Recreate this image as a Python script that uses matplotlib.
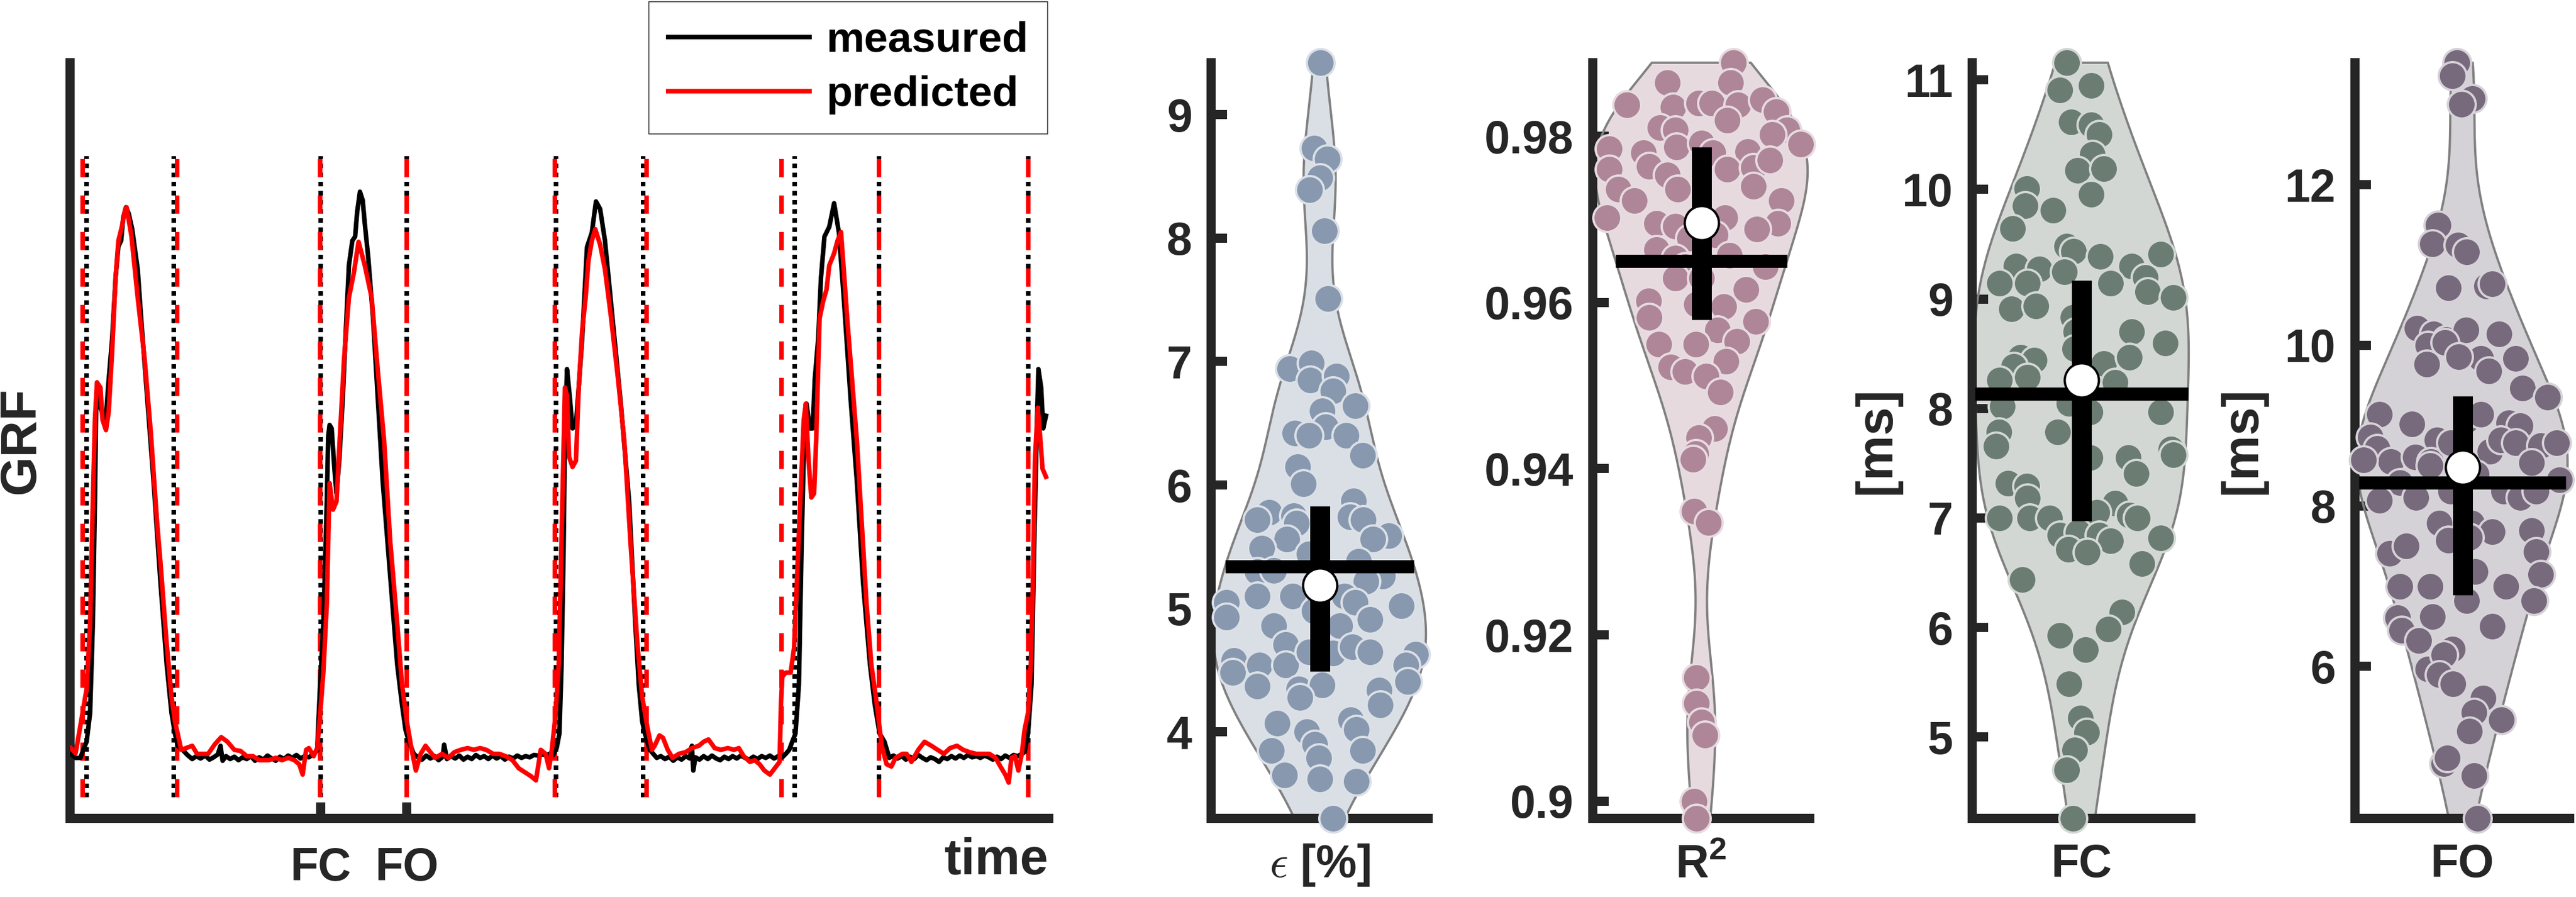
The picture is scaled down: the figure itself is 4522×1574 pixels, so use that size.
import numpy as np
import matplotlib
matplotlib.use("Agg")
import matplotlib.pyplot as plt
from matplotlib.lines import Line2D

plt.rcParams['font.family'] = ['Liberation Sans', 'DejaVu Sans']
plt.rcParams['font.weight'] = 'bold'
plt.rcParams['axes.labelweight'] = 'bold'
plt.rcParams['mathtext.fontset'] = 'custom'
plt.rcParams['mathtext.rm'] = 'Liberation Sans:bold'
plt.rcParams['mathtext.bf'] = 'Liberation Sans:bold'

# ---------------- GRF traces (time in frames, GRF in N) ----------------
t_meas = [1, 8, 15, 19, 24, 29, 33, 36, 38, 40, 44, 50, 53, 56, 61, 66, 70, 74, 77, 81, 85, 90, 98, 103,
          112, 121, 131, 140, 147, 152, 156, 163,
          170, 177, 183, 189, 196, 202, 208, 214, 218, 221, 226, 232, 238, 244, 250, 256, 262, 268, 274,
          280, 286, 292, 298, 304, 310, 316, 322, 328, 334, 340, 346, 352, 358,
          362, 367, 372, 374, 376, 379, 383, 386, 390, 395, 399, 404, 409, 413, 416, 420, 424, 427, 432,
          439, 446, 453, 460, 467, 474, 481, 486, 491, 498,
          504, 510, 516, 522, 528, 534, 540, 542, 546, 552, 558, 564, 570, 576, 582, 588, 594, 600, 606,
          612, 618, 624, 630, 636, 642, 648, 654, 660, 666, 672, 678, 684, 690, 697,
          700, 705, 709, 712, 715, 717, 720, 724, 728, 733, 737, 742, 749, 756, 762, 768, 775, 786, 798,
          810, 819, 824, 829, 833, 840, 850,
          856, 862, 868, 874, 880, 886, 892, 898, 901, 903, 906, 912, 918, 924, 930, 936, 942, 948, 954,
          960, 966, 972, 978, 984, 990, 996, 1002, 1008, 1014, 1020, 1026, 1032, 1037, 1042, 1046,
          1051, 1056, 1060, 1064, 1067, 1072, 1076, 1079, 1084, 1088, 1093, 1100, 1107, 1114, 1121, 1131,
          1140, 1149, 1159, 1166, 1173, 1180, 1187,
          1193, 1199, 1205, 1211, 1217, 1223, 1229, 1235, 1241, 1247, 1253, 1259, 1265, 1271, 1277, 1283,
          1289, 1295, 1301, 1307, 1313, 1319, 1325, 1331, 1337, 1343, 1349, 1355, 1361, 1367, 1373, 1379, 1383,
          1388, 1393, 1397, 1401, 1403, 1407, 1410, 1414]
grf_meas = [0, -7, -7, 7, 21, 71, 226, 438, 621, 636, 601, 581, 601, 650, 721, 827, 881, 891, 931, 949, 938, 911, 841, 756,
            615, 473, 297, 155, 71, 35, 14, 7,
            -2, -9, -4, -8, -3, -10, -6, -1, 14, -12, -4, -9, -5, -11, -6, -9, -4, -12, -6,
            -10, -3, -8, -12, -5, -9, -3, -7, -2, -8, -4, -6, -1, 6,
            113, 226, 438, 551, 571, 565, 495, 452, 509, 615, 721, 848, 891, 898, 941, 976, 961, 921, 862,
            756, 615, 473, 367, 261, 155, 85, 42, 21, 0,
            -6, -10, -3, -8, -4, -11, -5, 16, -9, -4, -8, -3, -10, -5, -9, -2, -7, -4, -9,
            -3, -8, -4, -10, -5, -8, -3, -7, -4, -6, -2, -3, -1, -2, 1,
            -2, 10, 35, 150, 350, 550, 668, 620, 565, 572, 636, 721, 880, 905, 959, 946, 891, 756, 608,
            438, 226, 120, 56, 35, 7, -7,
            -4, -9, -5, -12, -6, -10, -4, -8, 14, -29, -6, -10, -4, -9, -3, -8, -11, -5, -9,
            -4, -8, -3, -7, -10, -5, -9, -4, -7, -3, -8, -4, -6, 0, 7, 20,
            35, 120, 367, 565, 608, 565, 565, 650, 721, 827, 898, 915, 956, 905, 792, 615,
            473, 297, 155, 85, 35, 21, -7,
            -3, -8, -4, -10, -5, -9, -2, -7, -11, -6, -9, -14, -6, -9, -4, -8,
            -3, -7, -2, -6, -4, -7, -3, -6, -10, -5, -9, -3, -7, -2, -4, 0, 3,
            35, 120, 367, 580, 668, 636, 565, 587]

t_pred = [1, 8, 15, 19, 24, 29, 33, 36, 39, 44, 47, 52, 56, 61, 66, 70, 75, 80, 82, 89, 98, 108, 117, 126,
          131, 140, 147, 152, 156, 161, 168, 177, 184, 191, 200, 210, 219, 228, 238, 247, 256, 265, 274,
          288, 298, 307, 316, 325, 332, 337, 342, 346, 353, 358,
          362, 367, 372, 376, 381, 386, 390, 397, 404, 411, 418, 427, 437, 446, 455, 464, 474, 481, 488,
          495, 501, 508, 515, 522, 529, 539, 548, 557, 566, 576, 585, 594, 603, 613, 622, 631, 641, 650,
          659, 668, 675, 682, 689, 694, 698,
          703, 708, 712, 717, 720, 723, 728, 733, 737, 742, 747, 751, 756, 761, 768, 775, 784, 794, 803,
          812, 822, 829, 836, 843, 847, 854, 859, 866, 873, 882, 892, 901, 911, 918, 925, 934, 943, 953,
          962, 969, 976, 985, 992, 999, 1006, 1014, 1021, 1028,
          1030, 1032, 1037, 1044, 1049, 1053, 1058, 1063, 1066, 1070, 1074, 1078, 1081, 1086, 1091, 1096,
          1100, 1107, 1112, 1117, 1121, 1126, 1133, 1140, 1147, 1154, 1161, 1169, 1176, 1183, 1190, 1196,
          1206, 1212, 1219, 1229, 1238, 1248, 1257, 1266, 1275, 1285, 1294, 1303, 1313, 1322, 1332, 1341,
          1348, 1355, 1360, 1364, 1369, 1374, 1379,
          1383, 1388, 1392, 1395, 1398, 1402, 1406, 1409, 1414]
grf_pred = [10, 1, 49, 78, 113, 226, 438, 580, 645, 636, 580, 562, 594, 700, 827, 891, 915, 946, 949, 898, 792, 686, 558, 403,
            332, 191, 99, 56, 35, 7, 10, 14, 0, 0, 0, 17, 29, 21, 7, 5, -4, -4, -11,
            -11, -7, -11, -7, -11, -18, -36, 7, 10, -4, 10,
            63, 141, 261, 470, 424, 438, 530, 686, 792, 834, 889, 848, 792, 664, 544, 367, 226, 120, 56,
            7, -29, 0, 14, 3, -7, 0, -7, 3, 7, 10, 7, 10, 7, 0, 0, -4, -11, -25,
            -32, -39, -46, 7, 0, -25, 7,
            63, 155, 367, 636, 622, 516, 498, 509, 636, 735, 792, 855, 891, 911, 884, 841, 756, 650, 544,
            367, 191, 99, 49, 7, 14, 32, 28, 7, -7, 0, 3, 10, 14, 21, 25, 10, 7, 10,
            7, 10, -4, -14, -11, -18, -29, -36, -25, -14,
            85, 134, 141, 141, 184, 297, 438, 580, 608, 509, 445, 452, 544, 756, 785, 806,
            848, 869, 891, 906, 841, 756, 650, 544, 403, 261, 155, 85, 14, -18, -22, -7,
            0, 0, -14, 7, 21, 14, 7, 0, 10, 14, 7, 3, 0, 0, 0, -7,
            -22, -36, -50, -7, -4, -29, 0,
            42, 71, 155, 297, 509, 601, 544, 495, 481]

# gait events (frames)
fc_meas = [24, 363, 704, 1050, 1388]
fo_meas = [150, 488, 830, 1172]
fc_pred = [18, 362, 702, 1031, 1388]
fo_pred = [155, 488, 835, 1172]

# ---------------- violin data ----------------
eps_vals = [9.42, 8.73, 8.64, 8.49, 8.39, 8.06, 7.51, 6.94, 6.99, 6.85, 6.88, 6.76, 6.64, 6.60, 6.47, 6.42,
            6.40, 6.40, 6.24, 6.15, 6.01, 5.78, 5.72, 5.75, 5.69, 5.87, 5.74, 5.72, 5.56, 5.59, 5.56, 5.49,
            5.44, 5.38, 5.30, 5.31, 5.26, 5.22, 5.05, 4.93, 5.10, 5.10, 5.10, 5.05, 5.02, 4.98, 4.86, 4.86,
            4.91, 4.71, 4.58, 4.48, 4.54, 4.54, 4.65, 4.64, 4.69, 4.65, 4.63, 4.54, 4.41, 4.37, 4.35, 4.38,
            4.34, 4.22, 4.28, 4.07, 4.00, 4.10, 4.02, 3.90, 3.79, 3.85, 3.85, 3.65, 3.62, 3.60, 3.30]
eps_jit = [0.004, -0.026, 0.035, 0.0, -0.046, 0.022, 0.039, -0.139, -0.037, -0.044, 0.078, 0.061, 0.165, 0.011,
           0.028, -0.113, -0.048, 0.122, 0.198, -0.100, -0.074, -0.233, -0.287, -0.120, -0.107, 0.155, 0.141,
           0.202, -0.152, 0.318, 0.246, -0.266, -0.048, 0.181, -0.287, -0.211, 0.289, 0.213, -0.429, -0.429,
           -0.287, -0.124, 0.115, 0.163, 0.376, -0.026, -0.211, 0.094, 0.231, -0.157, -0.396, -0.400, -0.276,
           -0.157, -0.048, 0.061, 0.152, 0.231, 0.442, 0.398, 0.405, -0.287, -0.096, 0.011, 0.274, 0.279,
           -0.091, -0.196, -0.059, 0.144, 0.170, -0.022, -0.004, -0.222, 0.198, -0.161, 0.0, 0.170, 0.061]

r2_vals = [0.98885, 0.98643, 0.98643, 0.98380, 0.98353, 0.98401, 0.98401, 0.98380, 0.98436, 0.98297, 0.98194,
           0.98104, 0.98076, 0.98076, 0.98021, 0.97848, 0.97799, 0.97869, 0.97917, 0.97799, 0.97813, 0.97903,
           0.97606, 0.97640, 0.97537, 0.97606, 0.97620, 0.97710, 0.97364, 0.97226, 0.97364, 0.97398, 0.97226,
           0.97018, 0.96949, 0.96915, 0.97018, 0.96949, 0.96880, 0.96776, 0.96811, 0.96638, 0.96534, 0.96569,
           0.96431, 0.96431, 0.96292, 0.96292, 0.96154, 0.96016, 0.95981, 0.95947, 0.95822, 0.95774, 0.95670,
           0.95497, 0.95497, 0.95532, 0.95290, 0.95221, 0.95172, 0.95117, 0.94923, 0.94481, 0.94370, 0.94183,
           0.94114, 0.93492, 0.93354, 0.91487, 0.91176, 0.90955, 0.90796, 0.90000, 0.89793]
r2_jit = [0.148, -0.157, 0.135, -0.342, -0.131, -0.011, 0.048, 0.170, 0.283, 0.344, 0.120, -0.189, -0.120, 0.396,
          0.326, -0.424, -0.266, -0.113, 0.0, 0.054, 0.213, 0.457, -0.424, -0.239, -0.157, 0.120, 0.239, 0.316,
          -0.381, -0.309, -0.109, 0.239, 0.370, -0.435, -0.207, -0.120, 0.109, 0.353, 0.257, -0.054, 0.065,
          -0.207, -0.120, 0.131, 0.294, -0.076, -0.120, 0.0, 0.207, -0.244, -0.022, 0.104, -0.239, 0.250,
          0.076, -0.196, -0.026, 0.163, 0.115, -0.141, -0.076, 0.022, 0.087, 0.061, -0.011, -0.026, -0.039,
          -0.033, 0.033, -0.022, -0.022, 0.0, 0.017, -0.033, -0.022]

fc_vals = [11.157, 10.906, 10.948, 10.618, 10.592, 10.503, 10.320, 10.174, 10.190, 9.955, 10.007, 9.850, 9.808,
           9.641, 9.484, 9.432, 9.390, 9.406, 9.301, 9.275, 9.249, 9.301, 9.144, 9.144, 9.144, 9.197, 9.066,
           9.014, 8.909, 8.935, 8.700, 8.831, 8.700, 8.595, 8.465, 8.439, 8.386, 8.412, 8.465, 8.256, 8.282,
           8.240, 8.543, 8.020, 8.046, 7.968, 7.968, 7.785, 7.785, 7.654, 7.628, 7.576, 7.550, 7.550, 7.315,
           7.289, 7.184, 7.404, 7.132, 7.053, 7.027, 7.001, 7.001, 7.001, 7.001, 6.844, 6.870, 6.844, 6.792,
           6.714, 6.687, 6.818, 6.436, 6.583, 6.139, 5.982, 5.929, 5.799, 5.485, 5.171, 5.041, 4.884, 4.701, 4.257]
fc_jit = [-0.068, -0.099, 0.044, -0.046, 0.044, 0.080, 0.049, -0.019, 0.101, 0.044, -0.251, -0.258, -0.131,
          -0.315, -0.068, -0.036, 0.087, 0.361, -0.300, -0.194, -0.078, 0.228, -0.374, -0.247, 0.133, 0.291,
          0.302, 0.418, -0.321, -0.209, 0.228, -0.040, -0.025, 0.382, -0.279, -0.215, -0.310, 0.101, 0.218,
          -0.374, -0.247, 0.154, -0.030, -0.363, -0.057, 0.038, 0.361, -0.378, -0.110, -0.391, 0.408, 0.418,
          0.038, 0.213, -0.336, -0.251, -0.247, 0.249, 0.154, 0.070, 0.218, 0.256, -0.374, -0.237, -0.146,
          -0.099, -0.015, 0.080, 0.133, -0.061, 0.027, 0.361, -0.272, 0.277, 0.186, 0.122, -0.099, 0.017,
          -0.057, -0.004, 0.023, -0.032, -0.068, -0.040]

fo_vals = [13.521, 13.357, 13.071, 13.000, 11.500, 11.264, 11.250, 11.164, 10.714, 10.736, 10.764, 10.143,
           10.214, 10.143, 10.071, 10.193, 10.000, 10.036, 9.836, 9.764, 9.857, 9.836, 9.679, 9.464, 9.357,
           9.143, 9.021, 8.821, 9.071, 9.143, 9.036, 9.000, 8.857, 8.714, 8.550, 8.607, 8.550, 8.786, 8.679,
           8.821, 8.786, 8.750, 8.786, 8.571, 8.286, 8.500, 8.536, 8.321, 8.393, 8.071, 8.107, 8.179, 8.179,
           8.107, 8.179, 7.786, 7.786, 7.679, 7.693, 7.571, 7.607, 7.407, 7.500, 7.429, 7.143, 7.000, 7.000,
           7.179, 7.000, 6.821, 6.821, 6.607, 6.621, 6.450, 6.321, 6.214, 6.500, 5.964, 6.143, 5.893, 5.786,
           5.607, 5.429, 5.336, 5.193, 4.786, 4.857, 4.643, 4.107]
fo_jit = [-0.026, -0.047, 0.047, -0.004, -0.112, -0.139, -0.021, 0.021, -0.064, 0.112, 0.139, 0.172, -0.210,
          -0.133, -0.075, 0.017, -0.161, -0.082, 0.086, -0.167, -0.017, 0.247, 0.124, 0.279, 0.397, -0.386,
          -0.236, -0.118, 0.021, 0.086, 0.215, 0.268, -0.429, -0.397, -0.333, -0.219, -0.146, -0.054, 0.129,
          0.178, 0.247, 0.365, 0.440, -0.461, -0.290, -0.150, 0.322, 0.451, 0.064, -0.386, -0.215, -0.054,
          0.193, 0.268, 0.343, -0.107, 0.043, 0.139, 0.322, -0.064, 0.032, -0.339, -0.262, 0.343, 0.365,
          -0.290, -0.150, 0.060, 0.204, 0.333, 0.021, -0.300, -0.139, -0.283, -0.204, -0.047, 0.139, -0.161,
          -0.086, -0.107, -0.043, 0.097, 0.054, 0.182, 0.032, -0.086, -0.069, 0.054, 0.069]

# summary statistics: q1, q3, median, mean
eps_stats = [4.49, 5.83, 5.19, 5.34]
r2_stats = [0.9579, 0.9787, 0.9696, 0.9650]
fc_stats = [6.975, 9.17, 8.256, 8.135]
fo_stats = [6.893, 9.371, 8.479, 8.286]

violin_labels = [r'$\epsilon$ [%]', r'R$^{\mathbf{2}}$', 'FC', 'FO']
violin_ylabels = ['', '', '[ms]', '[ms]']
violin_colors = ['#8798af', '#ae8698', '#6b7d73', '#766a7c']
eps_ticks = [4, 5, 6, 7, 8, 9]
r2_ticks = [0.90, 0.92, 0.94, 0.96, 0.98]
r2_ticklabels = ['0.9', '0.92', '0.94', '0.96', '0.98']
fc_ticks = [5, 6, 7, 8, 9, 10, 11]
fo_ticks = [6, 8, 10, 12]

# ---------------- layout ----------------
W, H = 4522, 1574
DPI = 200
PX = 72.0 / DPI  # points per pixel
AX_COL = '#262626'
SPINE_W = 16 * PX
TICK_FS = 29
LABEL_FS = 32


def px_box(x0, x1, y_top=110, y_bot=1436):
    return [x0 / W, 1 - y_bot / H, (x1 - x0) / W, (y_bot - y_top) / H]


def style_axes(ax):
    for s in ['top', 'right']:
        ax.spines[s].set_visible(False)
    for s in ['left', 'bottom']:
        ax.spines[s].set_linewidth(SPINE_W)
        ax.spines[s].set_color(AX_COL)
        ax.spines[s].set_capstyle('projecting')
    ax.tick_params(direction='in', length=28 * PX, width=SPINE_W, color=AX_COL,
                   labelsize=TICK_FS, labelcolor=AX_COL, pad=12)


def bold_ticklabels(ax):
    for lbl in ax.get_xticklabels() + ax.get_yticklabels():
        lbl.set_fontweight('bold')


def ks_bandwidth(v):
    # MATLAB ksdensity default (normal approximation, MAD-based sigma)
    sig = np.median(np.abs(v - np.median(v))) / 0.6745
    return sig * (4.0 / (3.0 * len(v))) ** 0.2


fig = plt.figure(figsize=(W / DPI, H / DPI), dpi=DPI)

# ---------------- GRF panel ----------------
ax = fig.add_axes(px_box(123, 1841))
style_axes(ax)
tm, gm = np.array(t_meas), np.array(grf_meas)
tp, gp = np.array(t_pred), np.array(grf_pred)
gmin = min(gm.min(), gp.min())
gmax = max(gm.max(), gp.max())
span = gmax - gmin
lo, hi = gmin - 0.025 * span, gmax + 0.06 * span

lw = 8 * PX
for x in fc_meas + fo_meas:
    ax.plot([x, x], [lo, hi], color='black', lw=lw, ls=(0, (1.0, 1.0)), zorder=2)
for x in fc_pred + fo_pred:
    ax.plot([x, x], [lo, hi], color='red', lw=lw, ls=(0, (4.0, 4.0)), zorder=3)
ax.plot(tm, gm, color='black', lw=lw, zorder=4, solid_joinstyle='round')
ax.plot(tp, gp, color='red', lw=lw, zorder=5, solid_joinstyle='round')

ax.set_xlim(0, 1418)
ax.set_ylim(-112, 1200)
ax.set_yticks([])
ax.set_xticks([fc_meas[1], fo_meas[1]])
ax.set_xticklabels(['FC', 'FO'], fontweight='bold')
ax.tick_params(axis='x', pad=18)
bold_ticklabels(ax)
ax.set_ylabel('GRF', fontsize=LABEL_FS, color=AX_COL)
ax.yaxis.set_label_coords((37 - 123) / 1718, 0.5)
ax.yaxis.label.set_va('center')
ax.set_xlabel('time', fontsize=LABEL_FS, color=AX_COL)
ax.xaxis.set_label_coords(1.0, -(1511 - 1436) / 1326)
ax.xaxis.label.set_ha('right')
ax.xaxis.label.set_va('center')

handles = [Line2D([], [], color='black', lw=lw), Line2D([], [], color='red', lw=lw)]
leg = fig.legend(handles, ['measured', 'predicted'], loc='upper right',
                 bbox_to_anchor=(1839 / W, 1 - 3 / H), borderaxespad=0,
                 prop={'size': 27, 'weight': 'bold'},
                 handlelength=3.3, handletextpad=0.4, borderpad=0.45, labelspacing=0.35,
                 fancybox=False, framealpha=1, edgecolor=AX_COL)
leg.get_frame().set_linewidth(1.5 * PX)

# ---------------- violin panels ----------------
panels = [
    (eps_vals, eps_jit, eps_stats, eps_ticks, None, 2126, 2507, None),
    (r2_vals, r2_jit, r2_stats, r2_ticks, r2_ticklabels, 2796, 3177, None),
    (fc_vals, fc_jit, fc_stats, fc_ticks, None, 3462, 3846, 3295),
    (fo_vals, fo_jit, fo_stats, fo_ticks, None, 4134, 4511, 3937),
]

HALF = 0.49
for i, (vals, jit, stats, ticks, tlabels, x0, x1, ylab_x) in enumerate(panels):
    vals = np.array(vals)
    jit = np.array(jit)
    col = violin_colors[i]
    ax = fig.add_axes(px_box(x0, x1))
    style_axes(ax)

    grid = np.linspace(vals.min(), vals.max(), 300)
    bw = ks_bandwidth(vals)
    dens = np.exp(-0.5 * ((grid[:, None] - vals[None, :]) / bw) ** 2).sum(axis=1)
    dens = dens / dens.max() * HALF

    ax.fill_betweenx(grid, 1 - dens, 1 + dens, facecolor=col, alpha=0.3, lw=0, zorder=1)
    ox = np.concatenate([1 - dens, (1 + dens)[::-1], [1 - dens[0]]])
    oy = np.concatenate([grid, grid[::-1], [grid[0]]])
    ax.plot(ox, oy, color='#808080', lw=4 * PX, zorder=2, clip_on=False)

    rim = [0.3 * c + 0.7 for c in matplotlib.colors.to_rgb(col)]
    ax.scatter(1 + jit, vals, s=(49 * PX) ** 2, facecolor=col, edgecolor=rim,
               linewidth=4 * PX, zorder=3, clip_on=False)

    q1, q3, med, mean = stats
    ax.plot([1, 1], [q1, q3], color='black', lw=35 * PX, solid_capstyle='butt', zorder=4)
    mw = np.interp(mean, grid, dens)
    ax.plot([1 - mw, 1 + mw], [mean, mean], color='black', lw=23 * PX,
            solid_capstyle='butt', zorder=5)
    ax.plot([1], [med], marker='o', ms=60 * PX, mfc='white', mec='black', mew=4 * PX, zorder=6)

    ax.set_xlim(0.5, 1.5)
    ax.set_ylim(vals.min(), vals.max())
    ax.set_xticks([])
    ax.set_yticks(ticks)
    if tlabels is not None:
        ax.set_yticklabels(tlabels)
    bold_ticklabels(ax)
    ax.set_xlabel(violin_labels[i], fontsize=TICK_FS, color=AX_COL,
                  math_fontfamily='cm' if i == 0 else 'custom')
    ax.xaxis.set_label_coords(0.5, -(1518 - 1436) / 1326)
    ax.xaxis.label.set_va('center')
    if violin_ylabels[i]:
        ax.set_ylabel(violin_ylabels[i], fontsize=LABEL_FS, color=AX_COL)
        ax.yaxis.set_label_coords((ylab_x - x0) / (x1 - x0), 0.5)
        ax.yaxis.label.set_va('center')

fig.savefig('out.png', dpi=DPI, facecolor='white')
